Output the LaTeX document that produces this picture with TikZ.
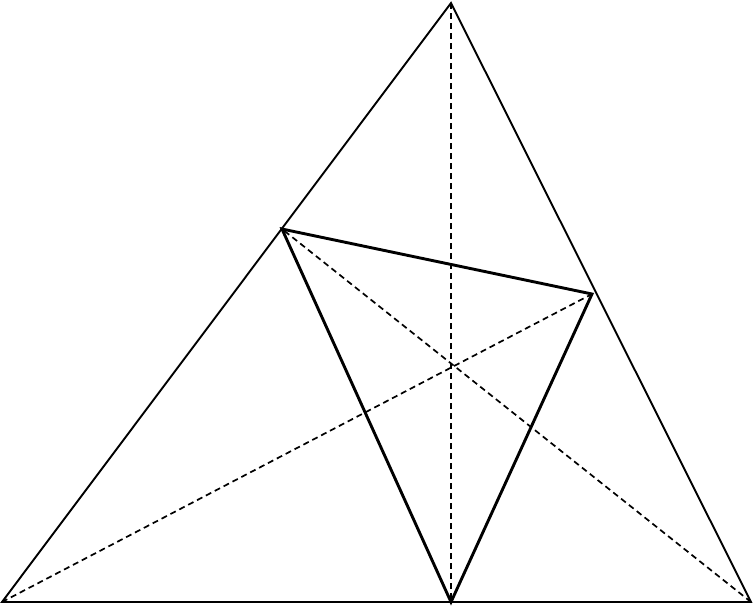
\documentclass[tikz,border=0pt]{standalone}
\tikzset{
  side/.style={line width=1.9pt, line join=miter},
  orthic/.style={line width=2.9pt, line join=miter},
  altitude/.style={line width=1.7pt, dash pattern=on 6pt off 4pt}
}
\begin{document}
\begin{tikzpicture}[x=1pt,y=-1pt]
\useasboundingbox (0,0) rectangle (754,606);
\coordinate (A) at (2,602);
\coordinate (B) at (751,602);
\coordinate (C) at (451,3);
\coordinate (D) at (451,602);
\coordinate (E) at (592,294);
\coordinate (F) at (282,229);
\draw[side] (A) -- (B) -- (C) -- cycle;
\draw[altitude] (C) -- (D);
\draw[altitude] (A) -- (E);
\draw[altitude] (B) -- (F);
\draw[orthic] (D) -- (E) -- (F) -- cycle;
\end{tikzpicture}
\end{document}
